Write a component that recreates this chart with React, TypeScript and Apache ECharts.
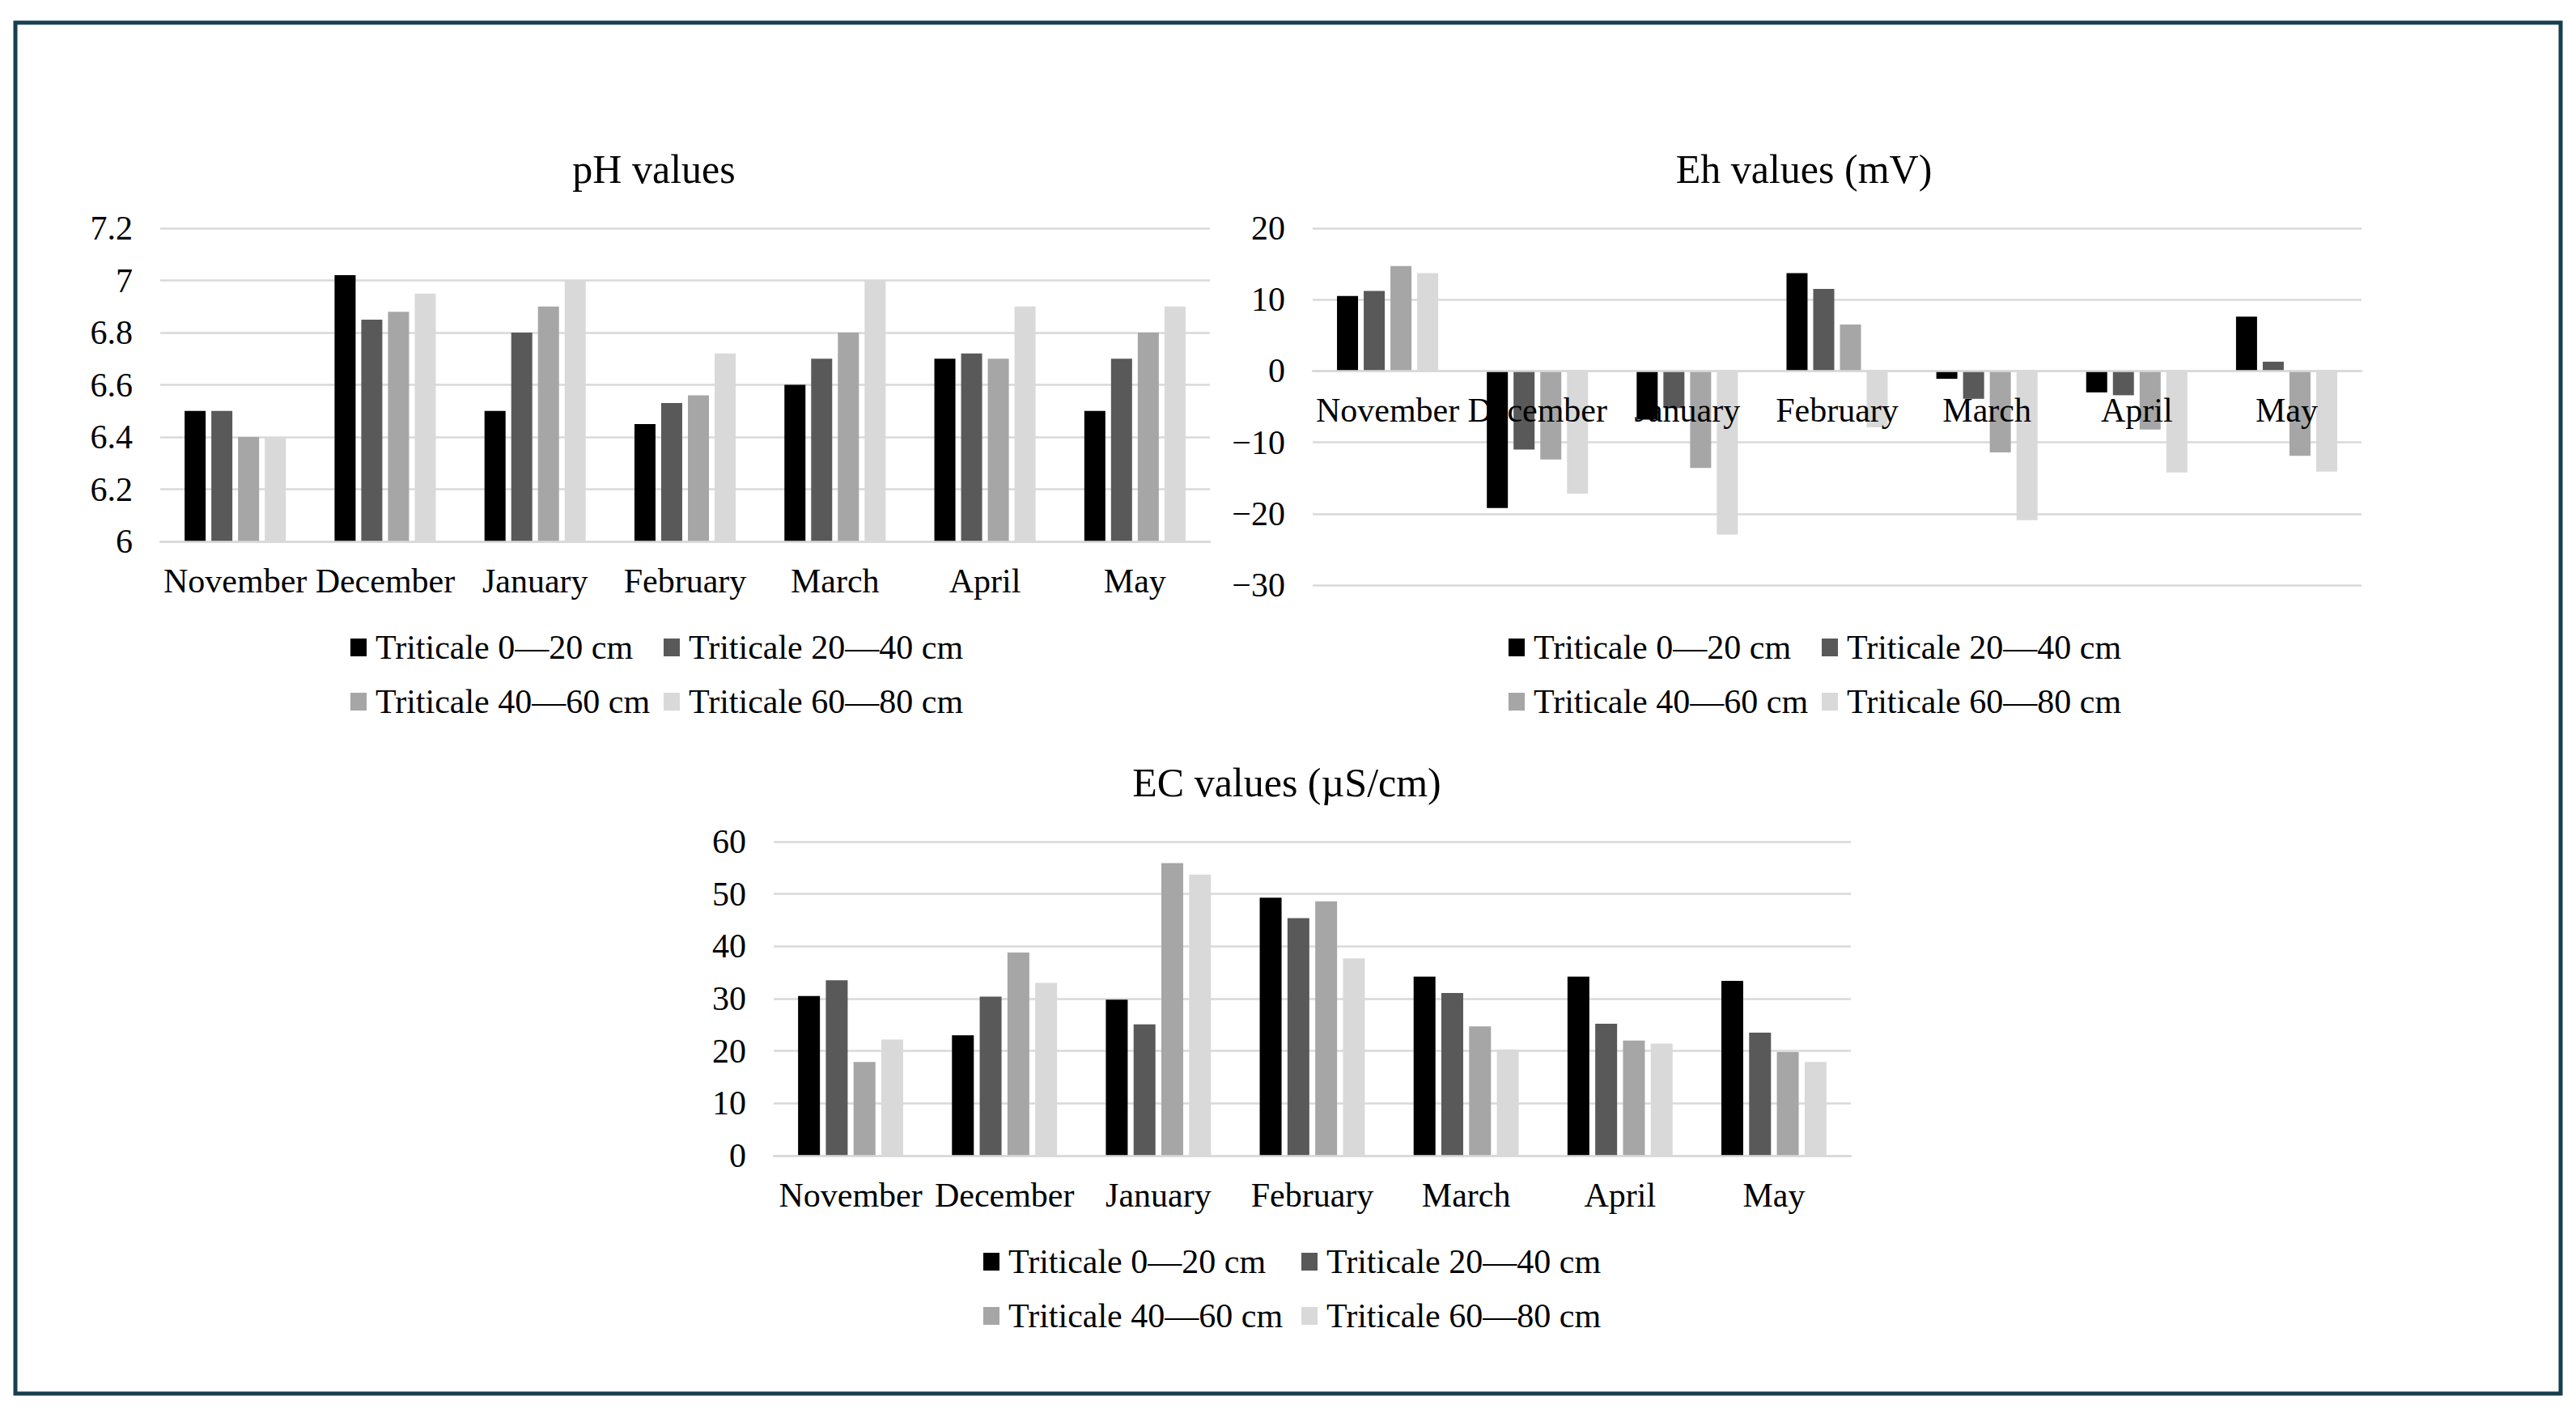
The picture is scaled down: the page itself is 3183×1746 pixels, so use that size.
import React, { useEffect, useRef } from 'react';
import * as echarts from 'echarts';

const months = ['November', 'December', 'January', 'February', 'March', 'April', 'May'];
const seriesNames = ['Triticale 0—20 cm', 'Triticale 20—40 cm', 'Triticale 40—60 cm', 'Triticale 60—80 cm'];
const barColors = ['#000000', '#595959', '#a6a6a6', '#d9d9d9'];

const ph0_20 = [6.5, 7.02, 6.5, 6.45, 6.6, 6.7, 6.5];
const ph20_40 = [6.5, 6.85, 6.8, 6.53, 6.7, 6.72, 6.7];
const ph40_60 = [6.4, 6.88, 6.9, 6.56, 6.8, 6.7, 6.8];
const ph60_80 = [6.4, 6.95, 7.0, 6.72, 7.0, 6.9, 6.9];

const eh0_20 = [10.5, -19.2, -6.8, 13.7, -1.1, -3.0, 7.6];
const eh20_40 = [11.2, -11.0, -5.2, 11.5, -3.9, -3.4, 1.3];
const eh40_60 = [14.7, -12.4, -13.6, 6.5, -11.4, -8.2, -11.9];
const eh60_80 = [13.7, -17.2, -22.9, -7.9, -20.9, -14.2, -14.1];

const ec0_20 = [30.5, 23.0, 29.8, 49.3, 34.2, 34.2, 33.4];
const ec20_40 = [33.5, 30.4, 25.1, 45.4, 31.1, 25.2, 23.5];
const ec40_60 = [17.9, 38.8, 55.9, 48.6, 24.7, 22.0, 19.8];
const ec60_80 = [22.2, 33.0, 53.7, 37.7, 20.3, 21.4, 17.9];

const titles = ['pH values', 'Eh values (mV)', 'EC values (µS/cm)'];

const FONT = '"Liberation Serif", "Times New Roman", serif';
const GRID_COLOR = '#d9d9d9';

export default function App() {
  const ref = useRef<HTMLDivElement>(null);

  useEffect(() => {
    if (!ref.current) return;
    const chart = echarts.init(ref.current, undefined, { renderer: 'svg' });

    const grids = [
      { left: 198, top: 282, width: 1297, height: 387 },
      { left: 1622, top: 282, width: 1296, height: 441 },
      { left: 956, top: 1040, width: 1331, height: 388 },
    ];
    const yRanges = [
      { min: 6, max: 7.2, interval: 0.2 },
      { min: -30, max: 20, interval: 10 },
      { min: 0, max: 60, interval: 10 },
    ];
    const dataSets = [
      [ph0_20, ph20_40, ph40_60, ph60_80],
      [eh0_20, eh20_40, eh40_60, eh60_80],
      [ec0_20, ec20_40, ec40_60, ec60_80],
    ];
    const barWidths = [26, 26, 27];
    const titlePos = [
      [808, 184],
      [2229, 184],
      [1590, 942],
    ];
    const legendPos = [
      { c1: 433, c2: 820, top: 779 },
      { c1: 1864, c2: 2251, top: 779 },
      { c1: 1215, c2: 1608, top: 1538 },
    ];

    // offset of the category axis from the grid bottom to the value-axis zero
    const axisOffsets = grids.map((g, gi) => {
      const r = yRanges[gi];
      if (r.min < 0 && r.max > 0) {
        return -(g.height * (0 - r.min)) / (r.max - r.min);
      }
      return 0;
    });

    const series: any[] = [];
    dataSets.forEach((ds, gi) => {
      ds.forEach((d, si) => {
        series.push({
          type: 'bar',
          name: seriesNames[si],
          xAxisIndex: gi,
          yAxisIndex: gi,
          data: d,
          barWidth: barWidths[gi],
          barGap: '27%',
          itemStyle: { color: barColors[si] },
          z: 2,
        });
      });
    });

    const legends: any[] = [];
    legendPos.forEach((lp) => {
      [[0, 2, lp.c1], [1, 3, lp.c2]].forEach(([a, b, left]) => {
        legends.push({
          data: [seriesNames[a as number], seriesNames[b as number]],
          orient: 'vertical',
          left: left,
          top: lp.top,
          padding: 0,
          itemGap: 25,
          itemWidth: 20,
          itemHeight: 22,
          icon: 'rect',
          selectedMode: false,
          textStyle: {
            fontFamily: FONT,
            fontSize: 42,
            color: '#000',
            lineHeight: 42,
            padding: [0, 0, 0, 6],
          },
        });
      });
    });

    const option: any = {
      animation: false,
      backgroundColor: '#ffffff',
      grid: grids.map((g) => ({ ...g, containLabel: false })),
      xAxis: grids.map((_, gi) => ({
        type: 'category',
        gridIndex: gi,
        data: months,
        z: 5,
        position: 'bottom',
        offset: axisOffsets[gi],
        axisLine: { show: true, onZero: false, lineStyle: { color: GRID_COLOR, width: 2.5 } },
        axisTick: { show: false },
        axisLabel: {
          interval: 0,
          margin: 28,
          fontFamily: FONT,
          fontSize: 42,
          color: '#000',
        },
        splitLine: { show: false },
      })),
      yAxis: grids.map((_, gi) => ({
        type: 'value',
        gridIndex: gi,
        min: yRanges[gi].min,
        max: yRanges[gi].max,
        interval: yRanges[gi].interval,
        axisLine: { show: false },
        axisTick: { show: false },
        axisLabel: {
          margin: 34,
          fontFamily: FONT,
          fontSize: 42,
          color: '#000',
          formatter: (v: number) => {
            const r = Math.round(v * 100) / 100;
            return String(r).replace('-', '−');
          },
        },
        splitLine: { show: true, lineStyle: { color: GRID_COLOR, width: 2.5 } },
      })),
      legend: legends,
      series,
      graphic: [
        {
          type: 'rect',
          shape: { x: 19, y: 28, width: 3145, height: 1694 },
          style: { fill: 'none', stroke: '#173f4e', lineWidth: 5 },
          silent: true,
        },
        ...titles.map((t, i) => ({
          type: 'text',
          x: titlePos[i][0],
          y: titlePos[i][1],
          silent: true,
          style: {
            text: t,
            fontFamily: FONT,
            fontSize: 50,
            fill: '#000',
            align: 'center',
            verticalAlign: 'top',
          },
        })),
      ],
    };

    chart.setOption(option);
    return () => {
      chart.dispose();
    };
  }, []);

  return (
    <div
      ref={ref}
      style={{ position: 'fixed', left: 0, top: 0, width: 3183, height: 1746, background: '#fff' }}
    />
  );
}
